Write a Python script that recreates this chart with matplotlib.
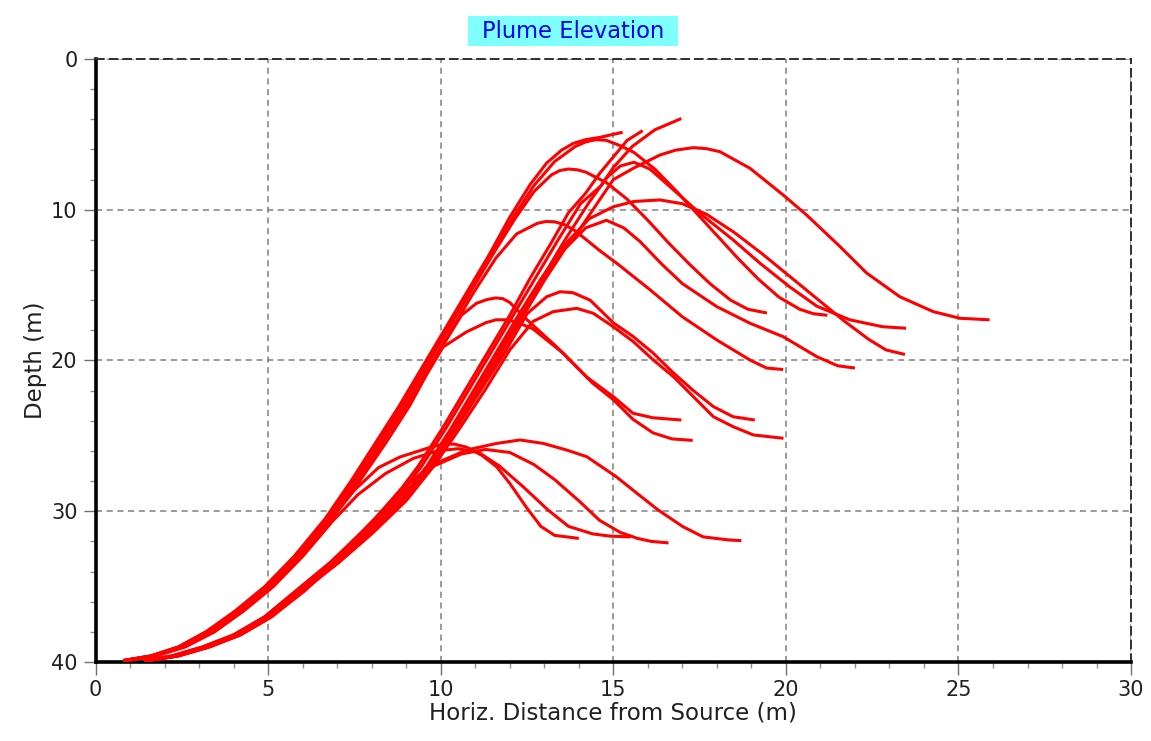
import matplotlib.pyplot as plt
from matplotlib.patches import Rectangle
from matplotlib.ticker import MultipleLocator

# Plume trajectories: x = horizontal distance (m), d = depth (m)

# left bundle (steeper near source)
left_top_a_x = [0.8, 1.6, 2.4, 3.2, 4.05, 4.9, 5.75, 6.65, 7.4, 8.1, 8.8, 9.45, 10.1, 10.75, 11.4, 12.0, 12.6, 13.07, 13.5, 13.84, 14.2, 14.61, 15.27]
left_top_a_d = [39.9, 39.6, 39.0, 38.0, 36.6, 35.0, 33.0, 30.5, 28.0, 25.5, 23.0, 20.5, 18.0, 15.5, 13.0, 10.5, 8.3, 6.9, 6.05, 5.6, 5.35, 5.2, 4.86]

left_top_b_x = [0.8, 1.6, 2.4, 3.2, 4.1, 4.95, 5.8, 6.7, 7.45, 8.15, 8.85, 9.5, 10.15, 10.8, 11.45, 12.1, 12.7, 13.3, 13.9, 14.2, 14.5, 14.8, 15.2, 15.6, 16.2, 16.8, 17.4, 18.0, 18.6, 19.2, 19.8, 20.4, 20.8, 21.2]
left_top_b_d = [39.9, 39.6, 39.0, 38.0, 36.6, 35.0, 33.0, 30.5, 28.0, 25.5, 23.0, 20.5, 18.0, 15.5, 13.0, 10.5, 8.4, 6.8, 5.8, 5.5, 5.35, 5.4, 5.75, 6.2, 7.3, 8.7, 10.2, 11.7, 13.2, 14.6, 15.8, 16.6, 16.9, 17.0]

left_top_c_x = [0.8, 1.6, 2.45, 3.25, 4.1, 5.0, 5.85, 6.75, 7.5, 8.2, 8.9, 9.55, 10.2, 10.85, 11.5, 12.15, 12.7, 13.2, 13.45, 13.7, 13.95, 14.2, 14.8, 15.4, 16.0, 16.6, 17.2, 17.8, 18.4, 18.9, 19.45]
left_top_c_d = [39.9, 39.6, 39.0, 38.0, 36.6, 35.0, 33.0, 30.5, 28.0, 25.5, 23.0, 20.5, 18.0, 15.5, 13.0, 10.6, 8.8, 7.7, 7.4, 7.3, 7.35, 7.5, 8.2, 9.3, 10.7, 12.2, 13.6, 14.9, 16.0, 16.6, 16.85]

left_mid_a_x = [0.85, 1.65, 2.5, 3.3, 4.15, 5.05, 5.9, 6.8, 7.55, 8.3, 9.0, 9.65, 10.3, 10.95, 11.6, 12.2, 12.8, 13.05, 13.3, 13.6, 13.9, 14.6, 15.1, 16.06, 17.0, 18.0, 18.96, 19.44, 19.92]
left_mid_a_d = [39.9, 39.6, 39.0, 38.0, 36.6, 35.0, 33.0, 30.5, 28.0, 25.5, 23.0, 20.5, 18.0, 15.5, 13.2, 11.6, 10.9, 10.78, 10.8, 11.0, 11.4, 12.7, 13.55, 15.3, 17.1, 18.64, 19.97, 20.5, 20.6]

left_mid_b_x = [0.85, 1.65, 2.5, 3.3, 4.15, 5.05, 5.9, 6.8, 7.6, 8.3, 9.0, 9.6, 10.2, 10.6, 11.04, 11.35, 11.6, 11.8, 12.0, 12.5, 13.36, 14.23, 15.0, 15.57, 16.15, 16.97]
left_mid_b_d = [39.9, 39.6, 39.0, 38.0, 36.6, 35.0, 33.0, 30.5, 28.0, 25.5, 23.0, 20.7, 18.5, 17.0, 16.2, 15.95, 15.85, 15.9, 16.15, 17.3, 19.1, 21.1, 22.4, 23.5, 23.8, 23.95]

left_mid_c_x = [0.9, 1.7, 2.55, 3.35, 4.2, 5.1, 5.95, 6.85, 7.65, 8.4, 9.1, 9.6, 10.07, 10.75, 11.3, 11.6, 11.9, 12.2, 12.67, 13.54, 14.4, 15.0, 15.57, 16.15, 16.7, 17.3]
left_mid_c_d = [39.9, 39.6, 39.0, 38.0, 36.6, 35.0, 33.0, 30.5, 28.0, 25.5, 23.0, 20.9, 19.1, 18.1, 17.5, 17.3, 17.3, 17.45, 17.9, 19.5, 21.5, 22.6, 23.9, 24.8, 25.2, 25.3]

left_low_a_x = [0.9, 1.7, 2.55, 3.4, 4.25, 5.1, 5.95, 6.8, 7.5, 8.2, 8.82, 9.3, 9.78, 10.07, 10.4, 10.75, 11.2, 11.62, 12.0, 12.5, 12.9, 13.3, 14.0]
left_low_a_d = [39.9, 39.6, 39.0, 38.0, 36.6, 35.0, 33.0, 30.6, 28.6, 27.1, 26.4, 26.05, 25.7, 25.55, 25.55, 25.75, 26.3, 27.05, 28.15, 29.8, 31.0, 31.6, 31.8]

left_low_b_x = [0.95, 1.75, 2.6, 3.45, 4.3, 5.15, 6.0, 6.85, 7.6, 8.4, 9.2, 9.9, 10.5, 11.1, 11.7, 12.4, 13.1, 13.7, 14.4, 14.9, 15.5]
left_low_b_d = [39.9, 39.6, 39.0, 38.0, 36.6, 35.0, 33.0, 30.7, 28.9, 27.5, 26.5, 26.0, 25.85, 26.1, 27.0, 28.4, 29.9, 31.0, 31.5, 31.65, 31.7]

# right bundle
right_top_a_x = [1.4, 2.2, 3.1, 4.0, 4.9, 5.85, 6.8, 7.75, 8.7, 9.45, 10.15, 10.8, 11.45, 12.1, 12.75, 13.4, 14.05, 14.65, 15.0, 15.55, 16.2, 16.97]
right_top_a_d = [39.9, 39.6, 39.0, 38.2, 37.0, 35.2, 33.4, 31.4, 29.3, 27.0, 24.5, 22.0, 19.5, 17.0, 14.5, 12.0, 9.6, 8.4, 7.2, 5.8, 4.7, 3.95]

right_top_b_x = [1.4, 2.2, 3.1, 4.0, 4.9, 5.85, 6.8, 7.7, 8.6, 9.35, 10.05, 10.7, 11.35, 12.0, 12.6, 13.2, 13.7, 14.2, 14.6, 15.0, 15.4, 15.85]
right_top_b_d = [39.9, 39.6, 39.0, 38.2, 37.0, 35.2, 33.4, 31.4, 29.3, 27.0, 24.5, 22.0, 19.5, 17.0, 14.5, 12.2, 10.2, 8.9, 7.6, 6.5, 5.4, 4.75]

right_top_c_x = [1.45, 2.25, 3.15, 4.05, 4.96, 5.93, 6.89, 7.86, 8.82, 9.6, 10.3, 10.95, 11.6, 12.25, 12.9, 13.45, 13.94, 14.6, 15.0, 15.58, 16.35, 16.8, 17.32, 17.7, 18.09, 18.96, 19.92, 20.6, 21.57, 22.34, 23.3, 24.27, 25.04, 25.9]
right_top_c_d = [39.9, 39.6, 39.0, 38.2, 37.0, 35.2, 33.4, 31.4, 29.3, 27.0, 24.5, 22.0, 19.5, 17.0, 14.6, 12.8, 11.6, 9.35, 8.0, 7.25, 6.37, 6.05, 5.88, 5.95, 6.15, 7.25, 9.02, 10.35, 12.45, 14.2, 15.77, 16.76, 17.2, 17.3]

right_top_d_x = [1.45, 2.3, 3.2, 4.1, 5.0, 5.95, 6.9, 7.9, 8.85, 9.65, 10.35, 11.0, 11.65, 12.3, 12.95, 13.6, 14.3, 14.8, 15.2, 15.6, 16.06, 16.64, 17.51, 18.47, 19.25, 20.1, 20.9, 21.85, 22.8, 23.48]
right_top_d_d = [39.9, 39.6, 39.0, 38.2, 37.0, 35.2, 33.4, 31.4, 29.3, 27.0, 24.5, 22.0, 19.5, 17.0, 14.5, 12.0, 9.5, 7.9, 7.1, 6.85, 7.3, 8.47, 10.24, 12.0, 13.55, 15.1, 16.4, 17.3, 17.76, 17.86]

right_top_e_x = [1.5, 2.3, 3.2, 4.1, 5.0, 5.95, 6.95, 7.95, 8.9, 9.7, 10.4, 11.05, 11.7, 12.35, 13.0, 13.6, 14.3, 15.0, 15.6, 16.35, 17.0, 17.7, 18.5, 19.3, 20.1, 20.9, 21.7, 22.4, 22.9, 23.45]
right_top_e_d = [39.9, 39.6, 39.0, 38.2, 37.0, 35.2, 33.4, 31.4, 29.3, 27.0, 24.5, 22.0, 19.5, 17.0, 14.5, 12.3, 10.6, 9.8, 9.45, 9.35, 9.6, 10.3, 11.5, 12.9, 14.4, 15.9, 17.4, 18.6, 19.3, 19.6]

right_top_f_x = [1.5, 2.35, 3.25, 4.15, 5.05, 6.0, 7.0, 8.0, 8.95, 9.75, 10.45, 11.1, 11.75, 12.4, 13.0, 13.6, 14.2, 14.8, 15.3, 15.77, 16.4, 17.0, 18.0, 18.96, 19.92, 20.9, 21.5, 22.0]
right_top_f_d = [39.9, 39.6, 39.0, 38.2, 37.0, 35.2, 33.4, 31.4, 29.3, 27.0, 24.5, 22.0, 19.5, 17.0, 14.7, 12.6, 11.2, 10.7, 11.2, 12.1, 13.6, 14.9, 16.43, 17.53, 18.42, 19.75, 20.35, 20.5]

right_mid_a_x = [1.5, 2.35, 3.25, 4.15, 5.05, 6.0, 7.0, 8.0, 8.95, 9.75, 10.45, 11.15, 11.9, 12.5, 13.07, 13.46, 13.83, 14.33, 15.0, 15.57, 16.15, 16.73, 17.3, 17.9, 18.47, 19.1]
right_mid_a_d = [39.9, 39.6, 39.0, 38.2, 37.0, 35.2, 33.4, 31.4, 29.3, 27.0, 24.5, 22.0, 19.3, 16.9, 15.77, 15.44, 15.5, 16.0, 17.5, 18.4, 19.5, 20.8, 21.96, 23.06, 23.73, 23.95]

right_mid_b_x = [1.55, 2.4, 3.3, 4.2, 5.1, 6.05, 7.05, 8.05, 9.0, 9.8, 10.55, 11.3, 12.0, 12.68, 13.26, 13.94, 14.42, 15.0, 15.58, 16.16, 16.74, 17.32, 17.9, 18.48, 19.06, 19.93]
right_mid_b_d = [39.9, 39.6, 39.0, 38.2, 37.0, 35.2, 33.4, 31.4, 29.3, 27.0, 24.5, 21.9, 19.3, 17.4, 16.76, 16.54, 16.87, 17.76, 18.75, 19.97, 21.07, 22.4, 23.73, 24.4, 24.94, 25.16]

right_low_a_x = [1.55, 2.4, 3.3, 4.2, 5.1, 6.05, 7.0, 7.9, 8.82, 9.78, 10.75, 11.62, 12.3, 12.97, 13.65, 14.23, 15.08, 15.68, 16.29, 17.0, 17.6, 18.33, 18.71]
right_low_a_d = [39.9, 39.6, 39.0, 38.2, 37.0, 35.3, 33.3, 31.0, 28.6, 26.9, 25.94, 25.5, 25.27, 25.5, 25.94, 26.38, 27.7, 28.8, 29.9, 31.0, 31.7, 31.9, 31.95]

right_low_b_x = [1.5, 2.35, 3.25, 4.15, 5.05, 6.0, 6.95, 7.9, 8.9, 9.8, 10.6, 11.3, 12.0, 12.7, 13.3, 14.0, 14.6, 15.2, 15.7, 16.1, 16.6]
right_low_b_d = [39.9, 39.6, 39.0, 38.2, 37.0, 35.2, 33.4, 31.2, 28.8, 27.0, 26.2, 25.9, 26.1, 26.9, 27.9, 29.3, 30.6, 31.4, 31.8, 32.0, 32.1]

curves = [
    (left_top_a_x, left_top_a_d), (left_top_b_x, left_top_b_d), (left_top_c_x, left_top_c_d),
    (left_mid_a_x, left_mid_a_d), (left_mid_b_x, left_mid_b_d), (left_mid_c_x, left_mid_c_d),
    (left_low_a_x, left_low_a_d), (left_low_b_x, left_low_b_d),
    (right_top_a_x, right_top_a_d), (right_top_b_x, right_top_b_d), (right_top_c_x, right_top_c_d),
    (right_top_d_x, right_top_d_d), (right_top_e_x, right_top_e_d), (right_top_f_x, right_top_f_d),
    (right_mid_a_x, right_mid_a_d), (right_mid_b_x, right_mid_b_d),
    (right_low_a_x, right_low_a_d), (right_low_b_x, right_low_b_d),
]

plt.rcParams['font.family'] = 'DejaVu Sans'

fig = plt.figure(figsize=(11.51, 7.41), dpi=100)
ax = fig.add_axes([0.083, 0.1066, 0.8997, 0.8138])

for x, d in curves:
    ax.plot(x, d, color='#ff0000', lw=2.2, solid_joinstyle='round', solid_capstyle='butt', zorder=3)

ax.set_xlim(0, 30)
ax.set_ylim(40, 0)
ax.xaxis.set_major_locator(MultipleLocator(5))
ax.xaxis.set_minor_locator(MultipleLocator(1))
ax.yaxis.set_major_locator(MultipleLocator(10))
ax.yaxis.set_minor_locator(MultipleLocator(2))

ax.grid(True, which='major', color='#808080', linestyle=(0, (4, 3)), lw=1.1)
ax.tick_params(which='major', direction='out', length=9, width=1, color='#707070',
               labelsize=15, labelcolor='#202020', pad=4)
ax.tick_params(which='minor', direction='out', length=4, width=1, color='#909090')

for side in ['left', 'bottom']:
    ax.spines[side].set_color('black')
    ax.spines[side].set_linewidth(2.6)
for side in ['top', 'right']:
    ax.spines[side].set_color('#303030')
    ax.spines[side].set_linewidth(1.4)
    ax.spines[side].set_linestyle((0, (4, 3)))

ax.set_xlabel('Horiz. Distance from Source (m)', fontsize=16.5, color='#202020', labelpad=1)
ax.set_ylabel('Depth (m)', fontsize=16.5, color='#202020', labelpad=3)

# title in a cyan box
fig.add_artist(Rectangle((0.4066, 0.9379), 0.1825, 0.0405, transform=fig.transFigure,
                         facecolor='#80ffff', edgecolor='none'))
fig.text(0.4978, 0.958, 'Plume Elevation', ha='center', va='center', fontsize=16.3, color='#0000f0')

fig.savefig('out.png', dpi=100)
